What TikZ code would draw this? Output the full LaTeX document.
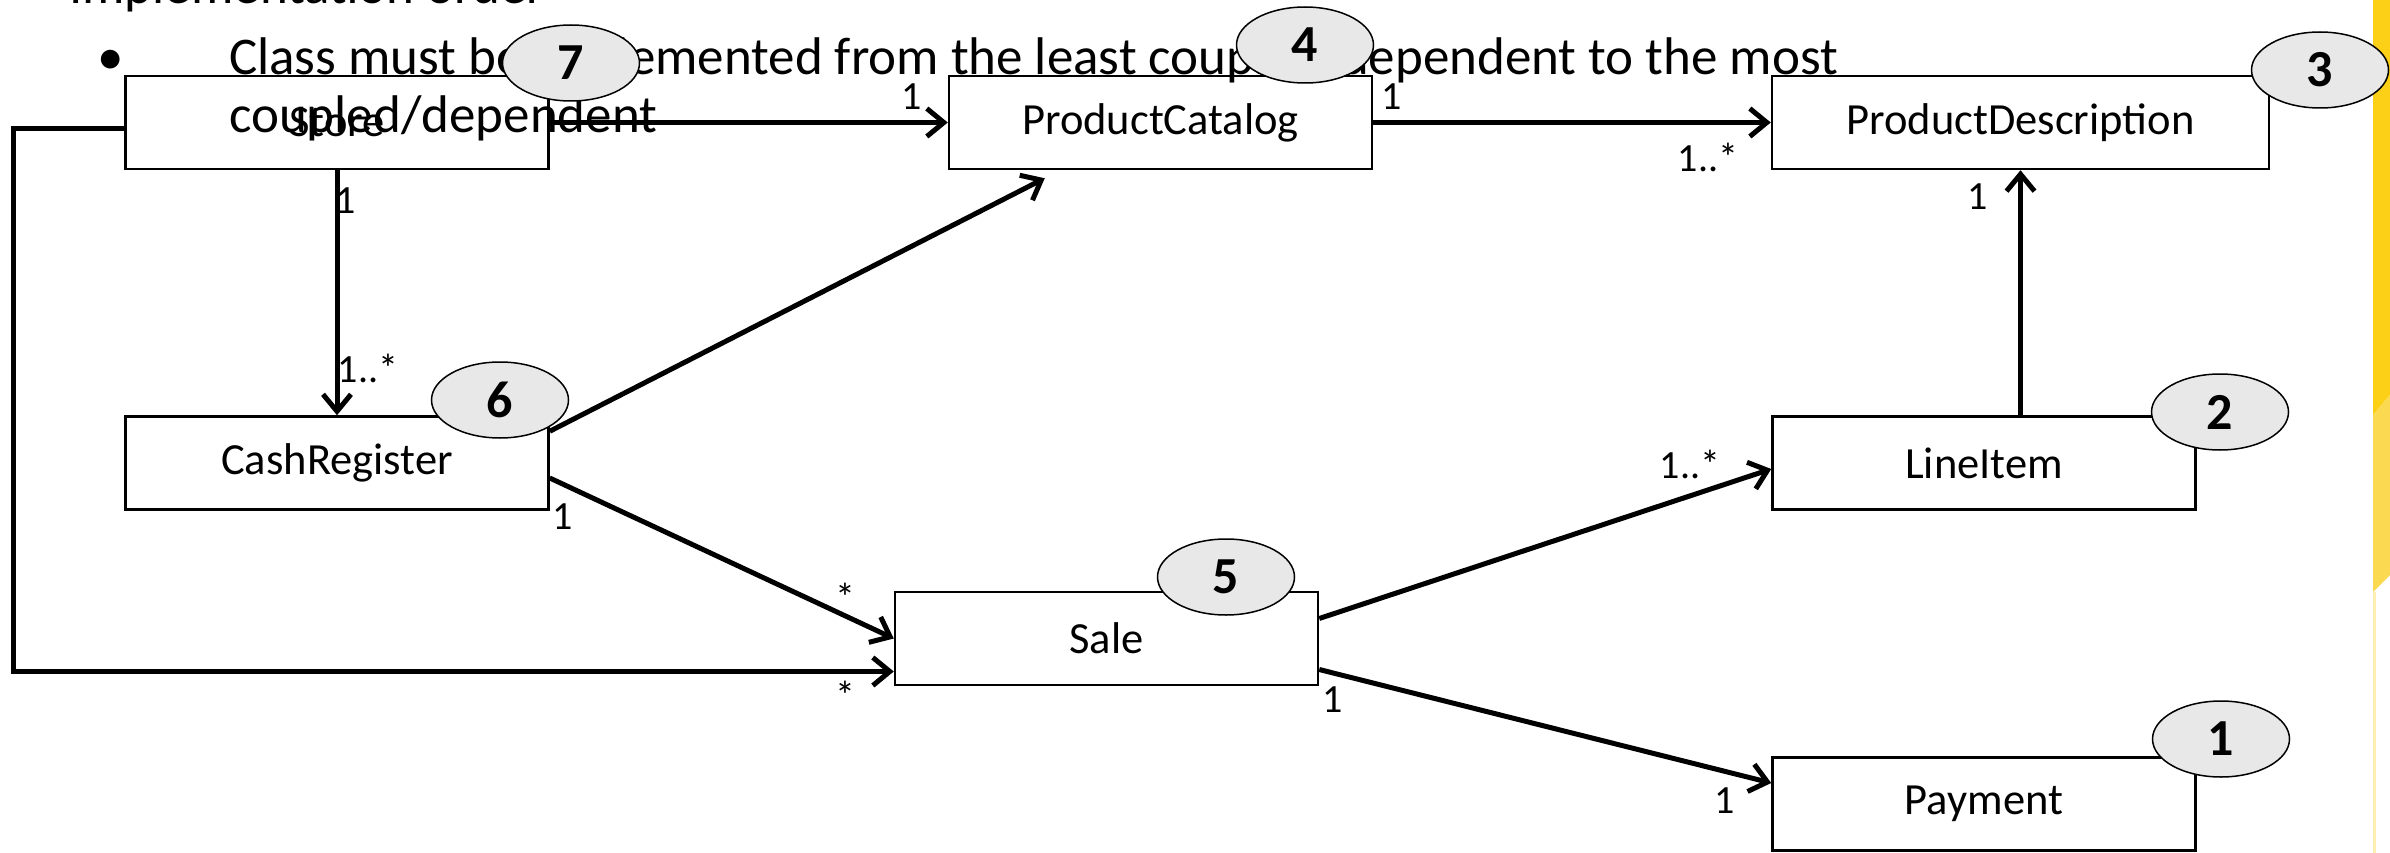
\documentclass[tikz,border=0pt]{standalone}
\usepackage{fontspec}
\setmainfont{Carlito}
\usetikzlibrary{shapes.geometric,arrows.meta,calc}
\definecolor{gold}{RGB}{252,208,22}
\definecolor{goldlight}{RGB}{251,218,82}
\definecolor{goldpale}{RGB}{254,238,175}
\definecolor{bubble}{RGB}{232,232,232}
\tikzset{
  cls/.style={draw=black, line width=2.5pt, fill=white, rectangle, inner sep=0pt,
    minimum height=93pt, font=\fontsize{44.5}{50}\selectfont},
  num/.style={draw=black, line width=1.5pt, fill=bubble, ellipse, inner sep=0pt,
    minimum width=137pt, minimum height=76pt, font=\fontsize{52}{56}\selectfont\bfseries},
  assoc/.style={line width=5pt, -{Straight Barb[length=17pt,width=28pt]}},
  mult/.style={anchor=base, inner sep=0pt, font=\fontsize{40}{44}\selectfont},
  slide/.style={anchor=base west, inner sep=0pt, font=\fontsize{53}{58}\selectfont},
}
\begin{document}
\begin{tikzpicture}[x=1pt,y=-1pt]
\useasboundingbox (0,0) rectangle (2390,853);
\clip (0,0) rectangle (2390,853);
% yellow stripe at right
\fill[gold] (2373,0) -- (2390,0) -- (2390,395) -- (2373,415) -- cycle;
\fill[goldlight] (2373,415) -- (2390,395) -- (2390,575) -- (2373,592) -- cycle;
\fill[goldpale] (2373,592) rectangle (2376,853);
% classes
\node[cls, minimum width=423pt] (store) at (337,122.5) {Store};
\node[cls, minimum width=423pt] (pc) at (1160.5,122.5) {ProductCatalog};
\node[cls, minimum width=497pt] (pd) at (2020.5,122.5) {ProductDescription};
\node[cls, minimum width=423pt] (cr) at (337,463) {CashRegister};
\node[cls, minimum width=423pt] (li) at (1984,463) {LineItem};
\node[cls, minimum width=423pt] (sale) at (1106.5,638.5) {Sale};
\node[cls, minimum width=423pt] (pay) at (1984,804) {Payment};
% associations
\coordinate (lft) at (13,0);
\draw[assoc] (store) -- (pc);
\draw[assoc] (pc) -- (pd);
\draw[assoc] (store) -- (cr);
\draw[assoc] (pd.south |- li.north) -- (pd.south);
\draw[assoc] ($(cr.north east)+(0,16)$) -- ($(pc.south west)+(97,8)$);
\draw[assoc] ($(cr.east)+(0,15)$) -- (sale.west);
\draw[assoc] ($(store.west)+(0,6)$) -- ($(lft |- store.west)+(0,6)$) |- ($(sale.west)+(0,33)$);
\draw[assoc] ($(sale.east)+(0,-20)$) -- ($(li.west)+(0,6)$);
\draw[assoc] ($(sale.east)+(0,31)$) -- ($(pay.west)+(0,-21)$);
% multiplicities
\node[mult] (m1) at (912,110) {1};
\node[mult] (m2) at (1392,110) {1};
\node[mult] (m3) at (1708,172) {1..*};
\node[mult] (m4) at (346,214) {1};
\node[mult] (m5) at (368,382) {1..*};
\node[mult] (m6) at (563,529) {1};
\node[mult] (m7) at (845,611) {*};
\node[mult] (m8) at (845,709) {*};
\node[mult] (m9) at (1333,712) {1};
\node[mult] (m10) at (1690,478) {1..*};
\node[mult] (m11) at (1725,813) {1};
\node[mult] (m12) at (1978,210) {1};
% slide text
\node[slide] (title) at (69,4) {Implementation order};
\node[anchor=base, inner sep=0pt, font=\fontsize{53}{58}\selectfont] (bul) at (111,75) {•};
\node[slide] (line1) at (229,75) {Class must be implemented from the least coupled/dependent to the most};
\node[slide] (line2) at (229,133) {coupled/dependent};
% order bubbles
\node[num] (n7) at (571,63) {7};
\node[num] (n4) at (1305,45) {4};
\node[num] (n3) at (2320,70) {3};
\node[num] (n6) at (500,400) {6};
\node[num] (n2) at (2220,412) {2};
\node[num] (n5) at (1226,577) {5};
\node[num] (n1) at (2221,739) {1};
\end{tikzpicture}
\end{document}
